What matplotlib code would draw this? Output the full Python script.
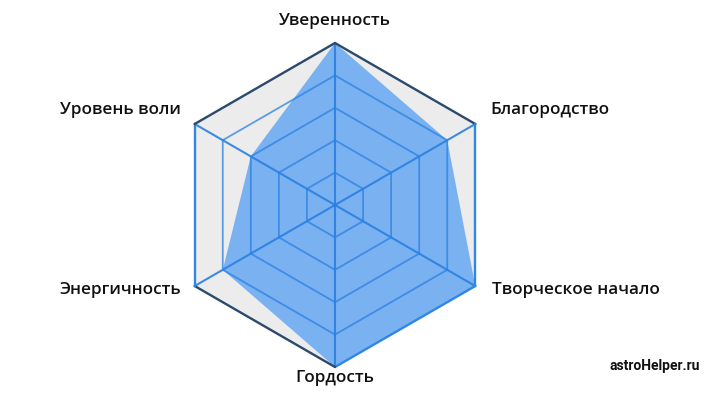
import numpy as np
import matplotlib.pyplot as plt

labels = ['Уверенность', 'Благородство', 'Творческое начало',
          'Гордость', 'Энергичность', 'Уровень воли']
values = [1.0, 0.8, 1.0, 1.0, 0.8, 0.6]
levels = [0.2, 0.4, 0.6, 0.8, 1.0]
watermark = 'astroHelper.ru'

plt.rcParams['font.family'] = ['Open Sans', 'DejaVu Sans']

fig = plt.figure(figsize=(7.12, 4.0), dpi=100)
ax = fig.add_axes([0, 0, 1, 1])
r_px = 162.0
cx, cy = 335.0, 205.0
ax.set_xlim(-cx / r_px, (712 - cx) / r_px)
ax.set_ylim(-(400 - cy) / r_px, cy / r_px)
ax.set_aspect('equal')
ax.axis('off')

# axes clockwise from the top
ang = np.deg2rad(90 - 60 * np.arange(len(labels)))
ux, uy = np.cos(ang), np.sin(ang)

def ring(r):
    return np.append(ux * r, ux[0] * r), np.append(uy * r, uy[0] * r)

# grey background hexagon
ox, oy = ring(levels[-1])
ax.fill(ox, oy, color='#ececec', zorder=1)

# data polygon
v = np.array(values)
ax.fill(np.append(ux * v, ux[0] * v[0]), np.append(uy * v, uy[0] * v[0]),
        color='#6aa9f2', alpha=0.88, lw=0, zorder=2)

# inner grid rings + spokes
grid_c = '#2a80e2'
for lv in levels[:-1]:
    gx, gy = ring(lv)
    ax.plot(gx, gy, color=grid_c, lw=1.3, alpha=0.75, zorder=3)
for i in range(len(labels)):
    ax.plot([0, ux[i]], [0, uy[i]], color=grid_c, lw=1.5, alpha=0.9, zorder=3)

# outer ring: slanted edges dark, vertical edges blue
for i in range(len(labels)):
    j = (i + 1) % len(labels)
    xs = [ux[i], ux[j]]
    ys = [uy[i], uy[j]]
    if abs(xs[0] - xs[1]) < 1e-6 or (values[i] >= 1 and values[j] >= 1):
        c = '#2f86e6'
    else:
        c = '#2b4a6e'
    ax.plot(xs, ys, color=c, lw=1.7, zorder=4, solid_capstyle='round')

# labels
offsets = [(0, 22), (15, 14), (17, -4), (0, -11), (-14, -4), (-14, 14)]
for i, lab in enumerate(labels):
    dx, dy = offsets[i]
    ha = 'center' if dx == 0 else ('left' if dx > 0 else 'right')
    ax.annotate(lab, (ux[i], uy[i]), xytext=(dx * 0.72, dy * 0.72),
                textcoords='offset points', ha=ha, va='center',
                fontsize=12.3, fontweight='semibold', color='#111111')

fig.text(700 / 712, 1 - 366 / 400, watermark, ha='right', va='center',
         fontsize=10, fontweight='bold', color='#111111',
         family=['Liberation Sans Narrow', 'Roboto'], stretch='condensed')

fig.savefig('out.png', dpi=100, facecolor='white')
